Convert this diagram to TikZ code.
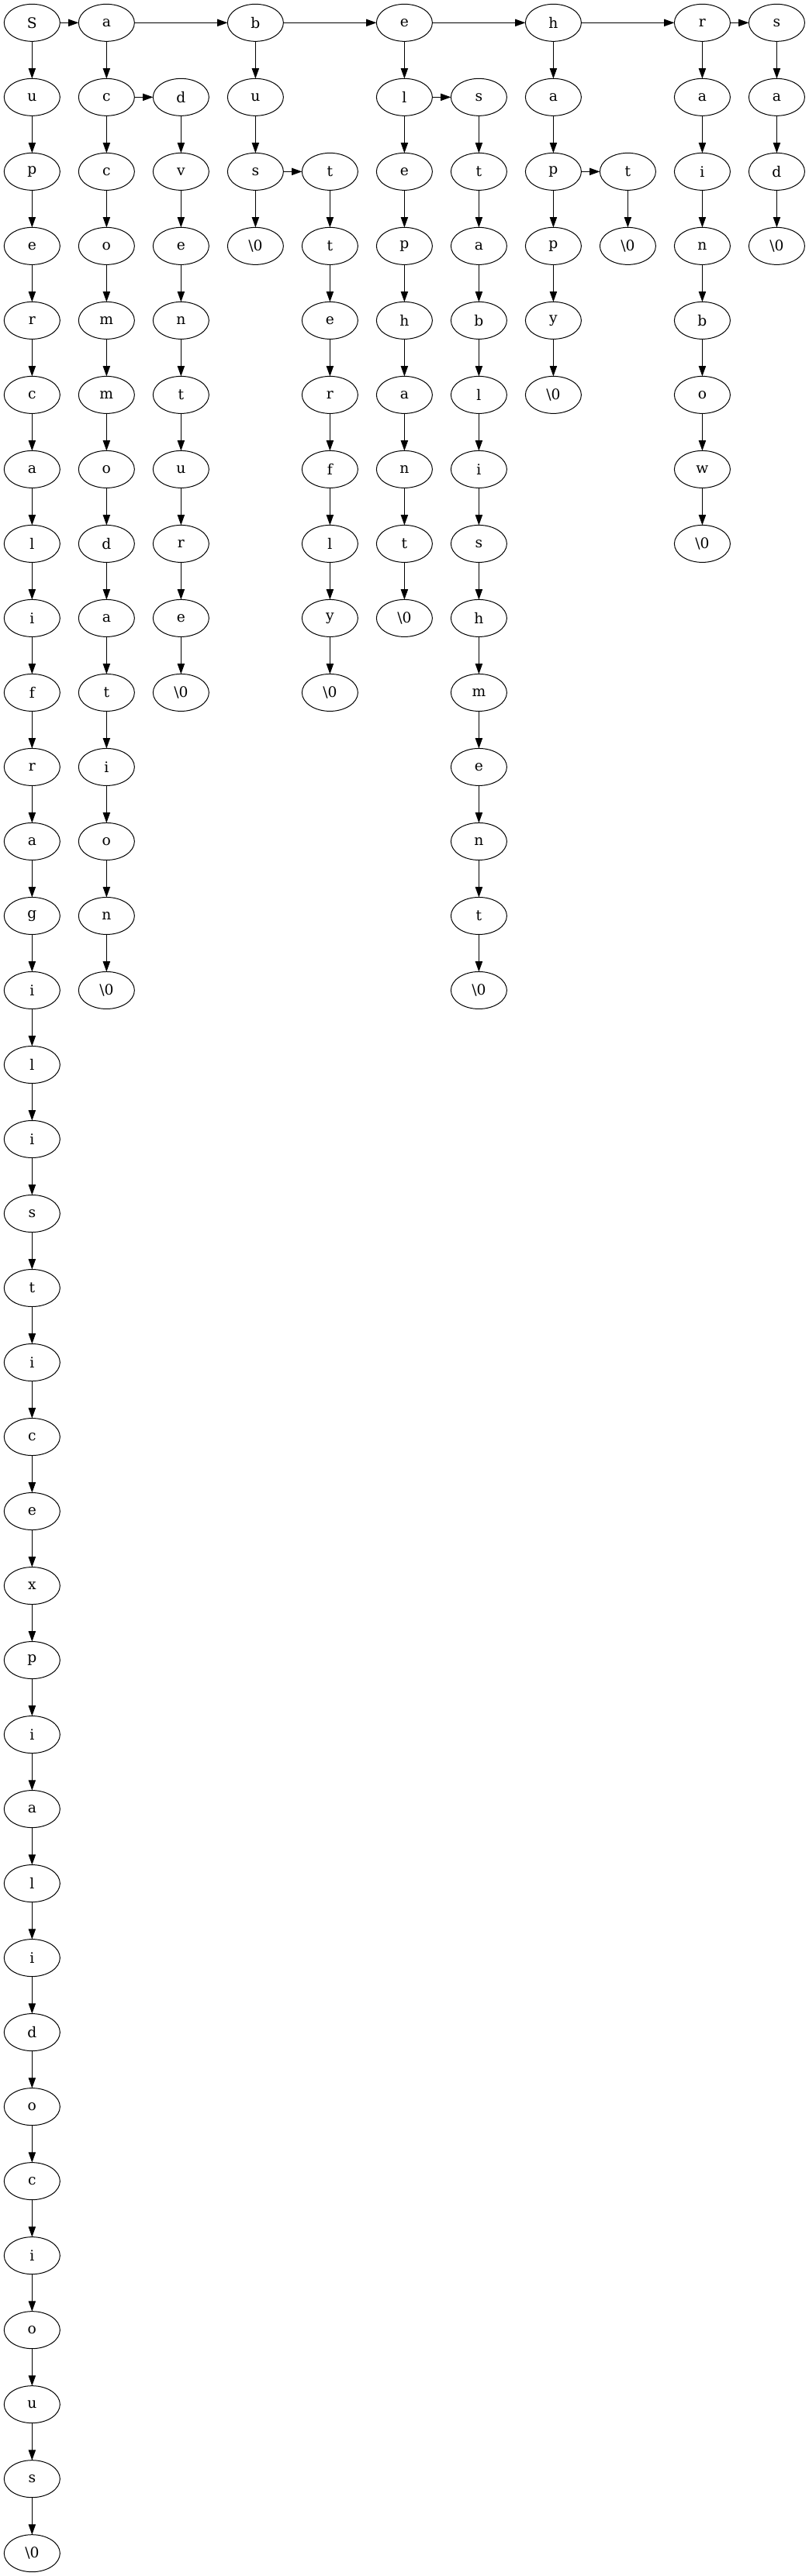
\documentclass[tikz,border=0pt]{standalone}
\usepackage{fontspec}
\setmainfont{DejaVu Serif}
\usetikzlibrary{shapes.geometric,arrows.meta}
\tikzset{
  trienode/.style={draw=black, ellipse, line width=0.75pt, minimum width=54pt, minimum height=36pt, inner sep=0pt, outer sep=0pt, font=\fontsize{14}{16}\selectfont},
  edge/.style={draw=black, line width=0.75pt, -{Triangle[length=10pt,width=7pt]}}
}
\newcommand{\triechain}[3]{%
  \foreach \lab [count=\k from 0] in {#3} {%
    \pgfmathtruncatemacro\rr{#2+\k}%
    \pgfmathtruncatemacro\pp{#2+\k-1}%
    \node[trienode] (n#1-\rr) at ({31+72*#1},{22+72*\rr}) {\lab};
    \ifnum\k>0 \draw[edge] (n#1-\pp) -- (n#1-\rr);\fi
  }%
}
\begin{document}
\begin{tikzpicture}[x=1pt,y=-1pt]
\useasboundingbox[fill=white] (0,0) rectangle (782,2492);
\triechain{0}{0}{S,u,p,e,r,c,a,l,i,f,r,a,g,i,l,i,s,t,i,c,e,x,p,i,a,l,i,d,o,c,i,o,u,s,{\textbackslash 0}}
\triechain{1}{0}{a,c,c,o,m,m,o,d,a,t,i,o,n,{\textbackslash 0}}
\triechain{2}{1}{d,v,e,n,t,u,r,e,{\textbackslash 0}}
\triechain{3}{0}{b,u,s,{\textbackslash 0}}
\triechain{4}{2}{t,t,e,r,f,l,y,{\textbackslash 0}}
\triechain{5}{0}{e,l,e,p,h,a,n,t,{\textbackslash 0}}
\triechain{6}{1}{s,t,a,b,l,i,s,h,m,e,n,t,{\textbackslash 0}}
\triechain{7}{0}{h,a,p,p,y,{\textbackslash 0}}
\triechain{8}{2}{t,{\textbackslash 0}}
\triechain{9}{0}{r,a,i,n,b,o,w,{\textbackslash 0}}
\triechain{10}{0}{s,a,d,{\textbackslash 0}}
\draw[edge] (n0-0) -- (n1-0);
\draw[edge] (n1-0) -- (n3-0);
\draw[edge] (n3-0) -- (n5-0);
\draw[edge] (n5-0) -- (n7-0);
\draw[edge] (n7-0) -- (n9-0);
\draw[edge] (n9-0) -- (n10-0);
\draw[edge] (n1-1) -- (n2-1);
\draw[edge] (n5-1) -- (n6-1);
\draw[edge] (n3-2) -- (n4-2);
\draw[edge] (n7-2) -- (n8-2);
\end{tikzpicture}
\end{document}
